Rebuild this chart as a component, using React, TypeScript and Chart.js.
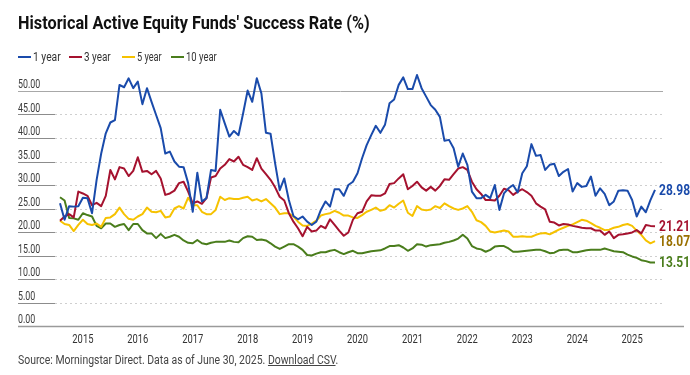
import React, { useEffect, useLayoutEffect, useRef } from 'react';
import { Chart, registerables } from 'chart.js';

Chart.register(...registerables);

// Monthly observations, Aug 2014 .. Jun 2025
const START_YEAR = 2014;
const START_MONTH = 8;
const N_MONTHS = 131;
const months: string[] = [];
for (let i = 0; i < N_MONTHS; i++) {
  const m = START_MONTH - 1 + i;
  months.push(`${START_YEAR + Math.floor(m / 12)}-${String((m % 12) + 1).padStart(2, '0')}`);
}

const yearLabels = ['2015', '2016', '2017', '2018', '2019', '2020', '2021', '2022', '2023', '2024', '2025'];
const yTickValues = [0, 5, 10, 15, 20, 25, 30, 35, 40, 45, 50];

const oneYear = [
  26.1, 22.6, 25.5, 25.4, 25.5, 27.3, 27.2, 24.0, 31.1, 36.7, 41.0, 43.3, 43.8, 51.3, 50.8, 52.7, 50.6, 52.0, 47.2, 50.6,
  47.7, 44.9, 42.1, 36.7, 37.1, 35.0, 33.9, 33.8, 30.4, 24.3, 32.6, 26.5, 27.2, 33.2, 33.0, 46.0, 43.1, 40.3, 41.5, 40.6,
  45.2, 50.1, 47.7, 52.7, 49.5, 41.1, 40.9, 34.6, 28.9, 31.4, 26.8, 23.4, 22.7, 23.3, 22.2, 21.5, 22.2, 24.7, 26.5, 25.4,
  29.1, 29.1, 27.7, 30.0, 30.7, 32.5, 35.7, 38.5, 40.6, 42.6, 41.1, 42.8, 47.4, 48.2, 51.3, 52.9, 50.4, 50.4, 53.4, 50.6,
  48.8, 47.0, 46.0, 44.5, 39.4, 39.6, 37.8, 33.9, 36.7, 34.3, 28.6, 27.2, 27.2, 27.9, 27.2, 30.0, 24.7, 28.2, 29.3, 30.0,
  28.4, 32.5, 34.0, 38.7, 36.2, 36.4, 33.2, 34.3, 34.5, 31.9, 32.8, 33.4, 28.6, 30.4, 29.6, 29.8, 31.8, 27.7, 29.3, 28.1,
  25.7, 26.5, 28.8, 28.9, 28.8, 26.8, 23.3, 25.4, 24.2, 26.8, 28.98,
];

const threeYear = [
  22.4, 23.3, 23.8, 23.1, 28.6, 28.2, 27.7, 25.7, 26.2, 25.5, 27.7, 33.2, 31.2, 33.8, 33.5, 31.9, 33.0, 35.9, 32.8, 33.0,
  32.3, 33.0, 31.4, 27.9, 28.2, 28.8, 30.4, 30.7, 28.6, 26.1, 26.5, 26.0, 27.2, 31.6, 31.9, 33.5, 34.3, 35.5, 35.0, 36.0,
  34.3, 33.8, 33.2, 35.7, 33.5, 32.3, 31.1, 29.5, 27.5, 26.7, 24.0, 22.2, 20.8, 19.1, 21.1, 20.1, 20.3, 21.3, 20.8, 22.7,
  21.5, 20.3, 19.2, 19.9, 22.6, 24.0, 24.3, 26.5, 27.8, 27.7, 27.7, 28.2, 30.2, 30.4, 31.4, 32.3, 29.1, 29.8, 30.7, 29.5,
  28.8, 29.6, 28.8, 29.8, 31.2, 31.1, 32.3, 33.5, 33.8, 33.2, 30.7, 29.1, 28.1, 26.8, 26.8, 26.7, 27.7, 29.2, 28.9, 27.9,
  28.6, 29.1, 28.5, 27.7, 26.1, 25.4, 24.8, 22.2, 22.0, 21.4, 21.7, 21.6, 21.3, 21.1, 20.9, 20.8, 20.8, 20.3, 20.3, 19.4,
  20.1, 18.7, 19.4, 19.5, 19.7, 19.9, 20.4, 19.7, 21.5, 21.3, 21.21,
];

const fiveYear = [
  22.4, 21.7, 21.5, 20.2, 21.5, 22.6, 21.7, 21.5, 21.8, 21.1, 23.0, 23.1, 23.8, 25.2, 23.8, 22.8, 22.6, 23.3, 23.8, 25.2,
  24.3, 24.2, 24.5, 23.1, 23.3, 25.0, 25.5, 25.0, 27.3, 25.7, 25.7, 24.3, 23.8, 23.8, 24.7, 27.5, 26.8, 27.2, 27.0, 27.0,
  27.3, 27.5, 26.7, 27.0, 26.5, 27.0, 26.1, 25.2, 23.8, 24.0, 24.0, 23.3, 22.2, 21.4, 21.3, 21.8, 22.4, 23.5, 23.8, 24.0,
  24.5, 24.1, 23.5, 23.5, 23.1, 23.0, 23.6, 24.3, 24.7, 25.2, 24.5, 24.8, 25.7, 25.2, 26.0, 26.7, 24.1, 23.4, 25.5, 24.8,
  24.6, 24.8, 25.5, 25.1, 26.1, 25.5, 25.0, 24.7, 25.0, 25.5, 24.3, 22.5, 22.1, 21.3, 20.1, 19.9, 20.1, 20.3, 20.1, 19.0,
  19.0, 19.1, 19.0, 19.0, 19.4, 19.7, 19.8, 19.5, 20.0, 20.5, 20.9, 21.3, 21.6, 22.1, 22.6, 22.4, 21.9, 21.3, 20.9, 20.4,
  20.5, 20.9, 21.1, 21.5, 21.7, 21.3, 20.3, 19.4, 18.2, 17.6, 18.07,
];

const tenYear = [
  27.4, 26.7, 23.0, 22.9, 22.6, 24.0, 23.6, 23.3, 21.3, 20.8, 21.8, 21.8, 21.1, 21.5, 21.7, 20.4, 21.7, 21.7, 20.4, 19.7,
  19.7, 18.7, 19.6, 18.7, 19.0, 19.4, 19.0, 18.2, 17.7, 17.6, 18.3, 17.6, 17.4, 17.7, 17.9, 17.9, 17.9, 18.2, 17.9, 17.8,
  18.7, 19.1, 19.0, 18.3, 18.4, 18.2, 17.6, 16.9, 16.4, 16.9, 17.4, 17.4, 16.9, 16.2, 15.1, 15.0, 15.4, 15.7, 15.7, 16.0,
  16.2, 15.7, 15.3, 15.7, 16.0, 15.5, 15.5, 15.7, 15.9, 16.0, 16.1, 16.5, 17.0, 17.0, 17.2, 16.7, 16.0, 16.5, 17.4, 17.3,
  16.9, 17.2, 17.3, 17.4, 17.7, 17.9, 18.2, 18.6, 19.4, 18.6, 17.0, 16.5, 16.3, 15.8, 16.2, 16.9, 17.0, 17.0, 16.5, 15.8,
  15.8, 15.9, 16.0, 16.1, 16.2, 16.2, 15.9, 15.5, 15.6, 16.1, 16.2, 16.2, 15.7, 15.7, 15.9, 16.1, 16.2, 16.2, 16.2, 16.5,
  16.2, 15.9, 15.8, 15.7, 15.2, 14.8, 14.5, 14.0, 13.8, 13.5, 13.51,
];

const seriesNames = ['1 year', '3 year', '5 year', '10 year'];
const lineColors = ['#1a4bab', '#a5122f', '#f6c200', '#4a7d1c'];
const endLabelColors = ['#1a4bab', '#a5122f', '#9a7000', '#4a7d1c'];

const FONT = 'Roboto, "Liberation Sans", sans-serif';

function condensedText(ctx: any, text: string, x: number, y: number, sx: number) {
  ctx.save();
  ctx.translate(x, y);
  ctx.scale(sx, 1);
  ctx.fillText(text, 0, 0);
  ctx.restore();
}

const decorPlugin = {
  id: 'decor',
  beforeDatasetsDraw(chart: any) {
    const { ctx } = chart;
    const y = chart.scales.y;
    const gridLeft = 18;
    const gridRight = 663;
    ctx.save();
    yTickValues.forEach((v) => {
      const py = Math.round(y.getPixelForValue(v)) + 0.5;
      if (v === 0) return;
      if (v === 50) {
        ctx.strokeStyle = '#a8a8a8';
        ctx.lineWidth = 1;
        ctx.setLineDash([]);
        ctx.beginPath();
        ctx.moveTo(gridLeft, py);
        ctx.lineTo(gridRight, py);
        ctx.stroke();
        return;
      }
      ctx.strokeStyle = '#8c8c8c';
      ctx.lineWidth = 1;
      ctx.setLineDash([]);
      ctx.beginPath();
      ctx.moveTo(gridLeft, py);
      ctx.lineTo(55, py);
      ctx.stroke();
      ctx.strokeStyle = '#cfcfcf';
      ctx.setLineDash([2, 3]);
      ctx.beginPath();
      ctx.moveTo(55, py);
      ctx.lineTo(gridRight, py);
      ctx.stroke();
    });
    ctx.restore();
  },
  afterDatasetsDraw(chart: any) {
    const { ctx } = chart;
    const x = chart.scales.x;
    const y = chart.scales.y;
    ctx.save();
    const by = Math.round(y.getPixelForValue(0)) + 0.5;
    ctx.strokeStyle = '#9a9a9a';
    ctx.lineWidth = 1.5;
    ctx.setLineDash([]);
    ctx.beginPath();
    ctx.moveTo(18, by);
    ctx.lineTo(684, by);
    ctx.stroke();

    // y labels
    ctx.fillStyle = '#3a3a3a';
    ctx.font = `13px ${FONT}`;
    ctx.textAlign = 'left';
    ctx.textBaseline = 'alphabetic';
    yTickValues.forEach((v) => {
      const py = y.getPixelForValue(v);
      condensedText(ctx, v.toFixed(2), 18, py - 3, 0.68);
    });

    // x labels
    ctx.textAlign = 'center';
    ctx.textBaseline = 'alphabetic';
    ctx.fillStyle = '#333333';
    yearLabels.forEach((yr) => {
      const px = x.getPixelForValue(months.indexOf(`${yr}-01`));
      condensedText(ctx, yr, px, by + 16, 0.72);
    });

    // end labels
    ctx.font = `bold 15px ${FONT}`;
    ctx.textAlign = 'left';
    ctx.textBaseline = 'middle';
    chart.data.datasets.forEach((ds: any, i: number) => {
      const last = ds.data[ds.data.length - 1];
      const px = x.getPixelForValue(ds.data.length - 1);
      const py = y.getPixelForValue(last);
      ctx.fillStyle = endLabelColors[i];
      condensedText(ctx, last.toFixed(2), px + 4, py + 1, 0.8);
    });
    ctx.restore();
  },
};

function FitText({ text, left, top, width, style, children }: any) {
  const ref = useRef<HTMLSpanElement | null>(null);
  useLayoutEffect(() => {
    const el = ref.current;
    if (!el) return;
    el.style.transform = 'none';
    const w = el.offsetWidth;
    if (w > 0) el.style.transform = `scaleX(${width / w})`;
  }, [width]);
  return (
    <span
      ref={ref}
      style={{ position: 'absolute', left, top, whiteSpace: 'nowrap', transformOrigin: '0 0', fontFamily: FONT, ...style }}
    >
      {children ?? text}
    </span>
  );
}

export default function App() {
  const canvasRef = useRef<HTMLCanvasElement | null>(null);

  useEffect(() => {
    document.body.style.margin = '0';
    const canvas = canvasRef.current;
    if (!canvas) return;
    const chart = new Chart(canvas, {
      type: 'line',
      data: {
        labels: months,
        datasets: [oneYear, threeYear, fiveYear, tenYear].map((d, i) => ({
          label: seriesNames[i],
          data: d,
          borderColor: lineColors[i],
          backgroundColor: lineColors[i],
          borderWidth: 2,
          pointRadius: 0,
          tension: 0,
          borderJoinStyle: 'round' as const,
          fill: false,
        })),
      },
      options: {
        responsive: false,
        animation: false,
        devicePixelRatio: 1,
        layout: { padding: { left: 60, right: 35, top: 67.5, bottom: 49 } },
        plugins: { legend: { display: false }, title: { display: false }, tooltip: { enabled: false } },
        scales: {
          x: { type: 'category', display: false, offset: false },
          y: { type: 'linear', display: false, min: 0, max: 55 },
        },
      },
      plugins: [decorPlugin],
    });
    return () => chart.destroy();
  }, []);

  const legendLefts = [18, 69, 122, 171];
  const legendWidths = [28, 27, 25, 31];

  return (
    <div style={{ position: 'relative', width: 690, height: 375, background: '#fff', overflow: 'hidden' }}>
      <canvas ref={canvasRef} width={690} height={375} style={{ position: 'absolute', left: 0, top: 0, width: 690, height: 375 }} />
      <FitText
        text="Historical Active Equity Funds' Success Rate (%)"
        left={18}
        top={12}
        width={352}
        style={{ fontWeight: 700, fontSize: 19, lineHeight: '22px', color: '#111' }}
      />
      {seriesNames.map((name, i) => (
        <React.Fragment key={name}>
          <span
            style={{
              position: 'absolute',
              left: legendLefts[i],
              top: 56,
              width: 13,
              height: 2,
              background: lineColors[i],
            }}
          />
          <FitText
            text={name}
            left={legendLefts[i] + 15}
            top={49}
            width={legendWidths[i]}
            style={{ fontSize: 12.5, lineHeight: '16px', color: '#333' }}
          />
        </React.Fragment>
      ))}
      <FitText left={18} top={352} width={320} style={{ fontSize: 12.5, lineHeight: '16px', color: '#444' }}>
        Source: Morningstar Direct. Data as of June 30, 2025.{' '}
        <span style={{ textDecoration: 'underline' }}>Download CSV</span>.
      </FitText>
    </div>
  );
}
